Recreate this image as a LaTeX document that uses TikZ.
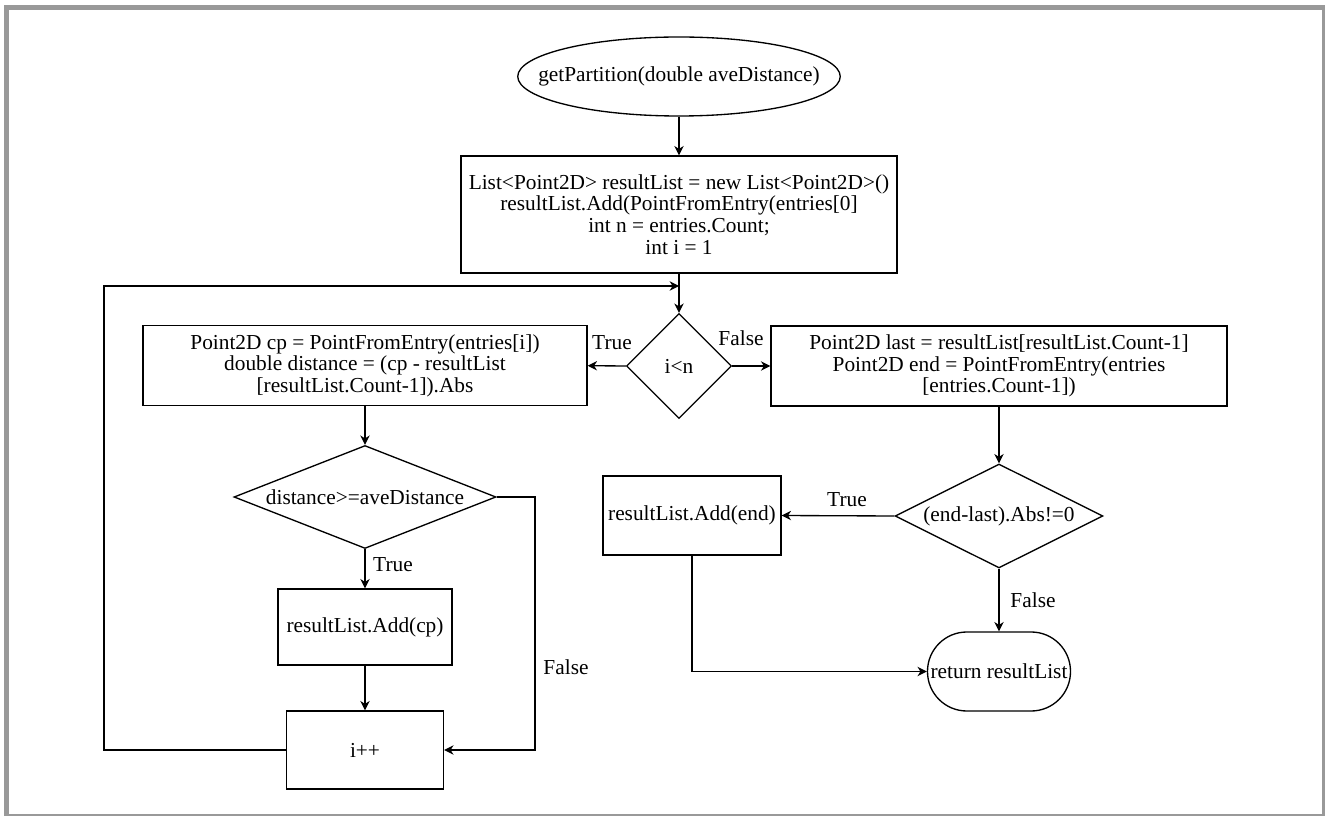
\documentclass[tikz,border=0pt]{standalone}
\usepackage{fontspec}
\setmainfont{Liberation Serif}
\usetikzlibrary{arrows.meta,shapes.geometric}
\definecolor{framegray}{HTML}{999999}

\begin{document}
\begin{tikzpicture}[
    x=0.75pt, y=-0.75pt,
    every node/.style={font=\fontsize{16}{16.3}\selectfont},
    startnode/.style={ellipse, draw, line width=1pt, inner xsep=-20pt, inner ysep=0pt, minimum width=240pt, minimum height=59.25pt},
    block/.style={rectangle, draw, line width=1pt, align=center, inner sep=2pt},
    decision/.style={diamond, draw, line width=1pt, align=center, inner sep=0pt},
    terminal/.style={rectangle, draw, line width=1pt, rounded corners=29.5pt, inner sep=0pt},
    lbl/.style={inner sep=0pt},
    arrow/.style={-{Stealth[length=7pt,width=7pt,inset=2.2pt]}, line width=1pt}
]
  \useasboundingbox (0,0) rectangle (1325,816);
  \draw[line width=3.5pt, draw=framegray] (6.4,7.5) rectangle (1324.5,816.5);

  % Entry and set-up
  \node[startnode] (start) at (679,76.5) {getPartition(double aveDistance)};
  \node[block, minimum width=327pt, minimum height=87.75pt] (init) at (679,214.5)
    {List<Point2D> resultList = new List<Point2D>()\\resultList.Add(PointFromEntry(entries[0]\\int n = entries.Count;\\int i = 1};

  % Loop test
  \node[decision, minimum width=78.75pt, minimum height=78.75pt] (cond) at (679,366) {i<n};

  % Loop body
  \node[block, minimum width=333pt, minimum height=60pt] (calc) at (365,365.7)
    {Point2D cp = PointFromEntry(entries[i])\\double distance = (cp - resultList\\{}[resultList.Count-1]).Abs};
  \node[decision, aspect=2.5, minimum width=196.5pt, minimum height=77.25pt] (check) at (365,497) {distance>=aveDistance};
  \node[block, minimum width=130.5pt, minimum height=57pt] (addcp) at (365,627) {resultList.Add(cp)};
  \node[block, minimum width=117.75pt, minimum height=58.5pt] (inc) at (365,750) {i++};

  % After the loop
  \node[block, minimum width=342pt, minimum height=60pt] (tail) at (999,366)
    {Point2D last = resultList[resultList.Count-1]\\Point2D end = PointFromEntry(entries\\{}[entries.Count-1])};
  \node[decision, aspect=2, minimum width=156pt, minimum height=78pt] (nonzero) at (999,516) {(end-last).Abs!=0};
  \node[block, minimum width=133.5pt, minimum height=59.25pt] (addend) at (692,515.5) {resultList.Add(end)};
  \node[terminal, minimum width=107.25pt, minimum height=59.25pt] (ret) at (999,671.5) {return resultList};

  % Branch labels
  \node[lbl] (t1) at (612,343) {True};
  \node[lbl] (f1) at (741,338) {False};
  \node[lbl] (t2) at (393,565) {True};
  \node[lbl] (f2) at (566,667) {False};
  \node[lbl] (t3) at (847,500) {True};
  \node[lbl] (f3) at (1033,600) {False};

  % Corners of the bent connectors
  \coordinate (falsecorner) at (535,497);
  \coordinate (loopcorner) at (104,286);
  \coordinate (merge) at (679,286);

  % Arrows
  \draw[arrow] (start) -- (init);
  \draw[arrow] (init) -- (cond);
  \draw[arrow] (cond.west) -- (calc.east);
  \draw[arrow] (cond.east) -- (tail.west);
  \draw[arrow] (calc) -- (check);
  \draw[arrow] (check) -- (addcp);
  \draw[arrow] (addcp) -- (inc);
  \draw[arrow] (check.east) -- (falsecorner) |- (inc.east);
  \draw[arrow] (inc.west) -| (loopcorner) -- (merge);
  \draw[arrow] (tail) -- (nonzero);
  \draw[arrow] (nonzero.west) -- (addend.east);
  \draw[arrow] (nonzero) -- (ret);
  \draw[arrow] (addend.south) |- (ret.west);
\end{tikzpicture}
\end{document}
